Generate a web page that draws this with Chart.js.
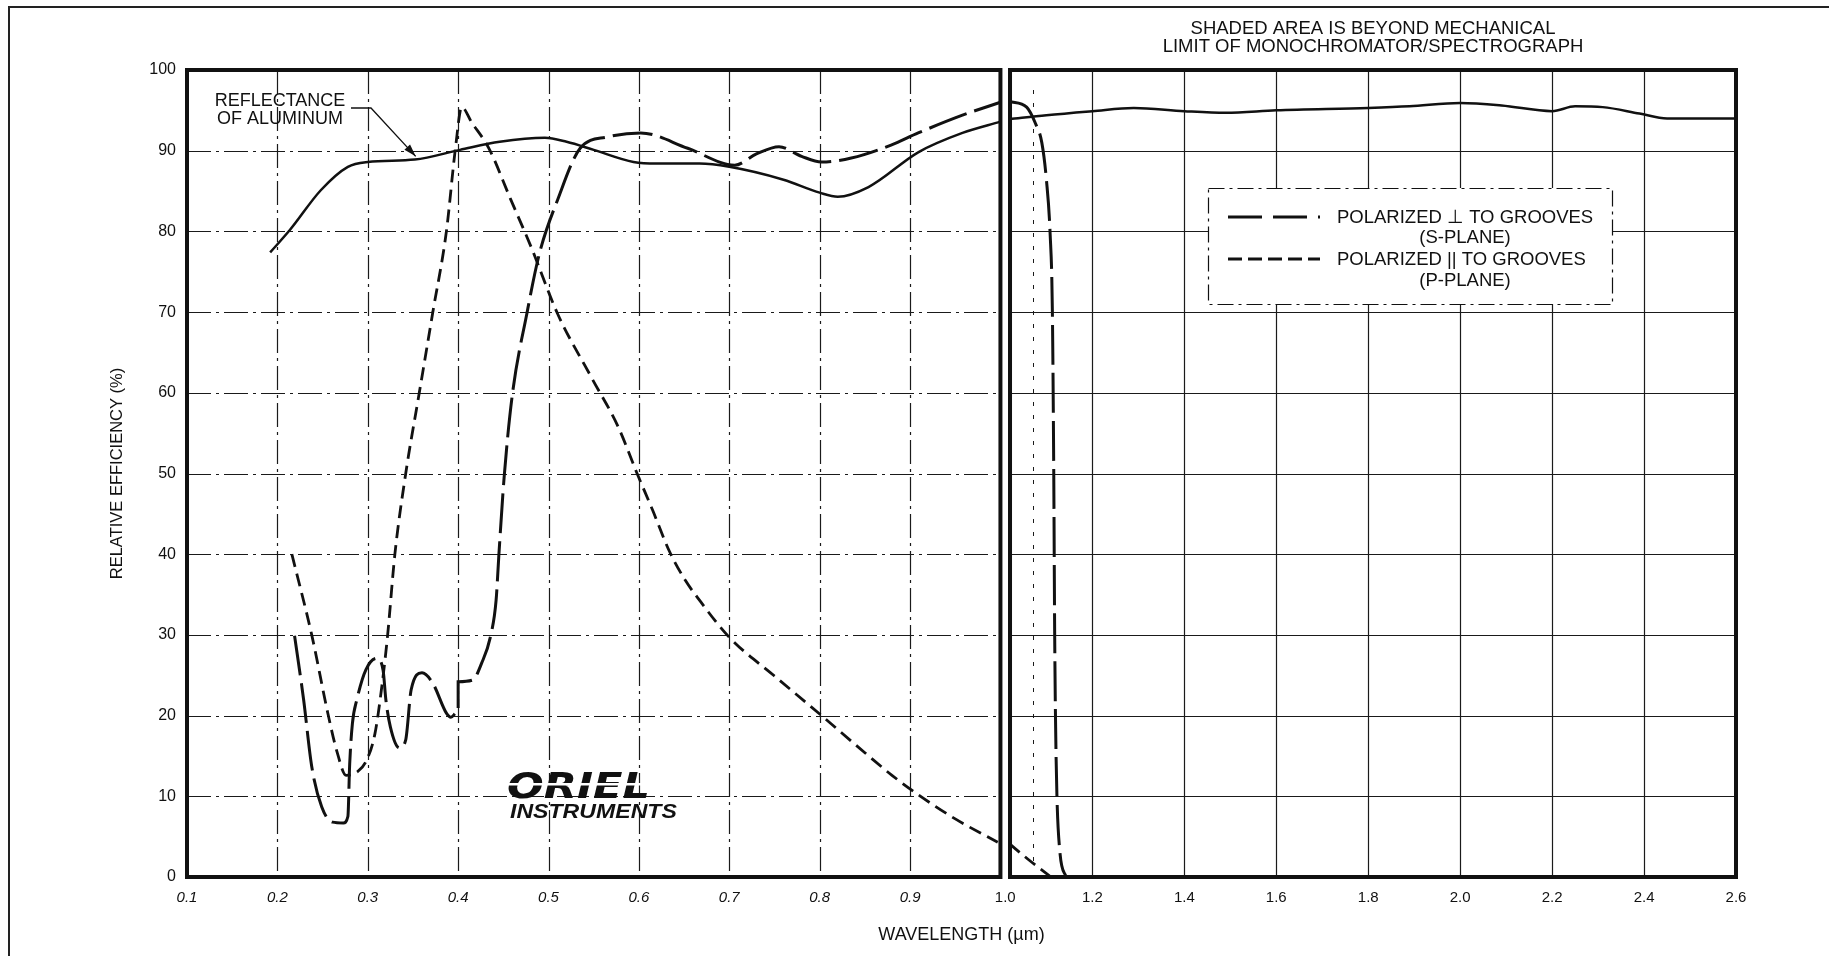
<!DOCTYPE html>
<html>
<head>
<meta charset="utf-8">
<script src="https://cdn.jsdelivr.net/npm/chart.js@4.4.1/dist/chart.umd.min.js"></script>
<style>
  html, body { margin: 0; padding: 0; background: #fff; }
  canvas { display: block; }
</style>
</head>
<body>
<canvas id="effChart" width="1829" height="956"></canvas>
<script>
// wavelength in µm, relative efficiency in %
const reflLeftWl   = [0.192, 0.214, 0.248, 0.278, 0.30, 0.352, 0.402, 0.446, 0.496, 0.52, 0.55, 0.594, 0.62, 0.667, 0.70, 0.76, 0.80, 0.82, 0.854, 0.909, 0.958, 1.0];
const reflLeftEff  = [77.4, 80.2, 85.1, 88.0, 88.6, 88.9, 90.1, 91.1, 91.6, 91.1, 90.1, 88.6, 88.4, 88.4, 88.0, 86.4, 84.8, 84.3, 85.5, 89.8, 92.2, 93.6];
const reflRightWl  = [1.02, 1.1, 1.2, 1.29, 1.4, 1.49, 1.6, 1.8, 1.89, 2.0, 2.09, 2.2, 2.25, 2.31, 2.39, 2.45, 2.6];
const reflRightEff = [93.9, 94.4, 94.9, 95.3, 94.9, 94.7, 95.0, 95.3, 95.5, 95.9, 95.6, 94.9, 95.5, 95.4, 94.6, 94.0, 94.0];

// polarized perpendicular to grooves (S-plane)
const sLeftWl  = [0.219, 0.229, 0.238, 0.249, 0.261, 0.273, 0.278, 0.28, 0.283, 0.288, 0.298, 0.31, 0.317, 0.32, 0.325, 0.335, 0.342, 0.348, 0.36, 0.372, 0.387, 0.392, 0.398, 0.40, 0.40, 0.416, 0.426, 0.436, 0.442, 0.445, 0.451, 0.46, 0.476, 0.49, 0.51, 0.535, 0.565, 0.602, 0.654, 0.706, 0.73, 0.755, 0.78, 0.802, 0.835, 0.879, 0.909, 0.958, 1.0];
const sLeftEff = [29.9, 22.0, 13.7, 8.7, 6.8, 6.7, 7.5, 14.0, 19.0, 22.0, 25.7, 27.1, 25.6, 22.0, 18.6, 16.0, 17.0, 23.2, 25.3, 24.0, 20.3, 19.8, 20.4, 20.5, 24.2, 24.4, 26.5, 29.9, 34.3, 39.8, 49.7, 59.8, 69.8, 77.3, 83.9, 90.3, 91.7, 92.2, 90.3, 88.2, 89.6, 90.5, 89.3, 88.6, 89.1, 90.7, 92.2, 94.4, 96.0];
const sRightWl  = [1.02, 1.057, 1.076, 1.09, 1.10, 1.108, 1.113, 1.116, 1.118, 1.121, 1.129, 1.143];
const sRightEff = [96.1, 95.4, 93.4, 91.0, 86.4, 79.8, 70.0, 50.0, 30.0, 15.0, 3.3, 0.0];

// polarized parallel to grooves (P-plane)
const pLeftWl  = [0.216, 0.238, 0.256, 0.266, 0.276, 0.288, 0.298, 0.308, 0.316, 0.322, 0.33, 0.342, 0.357, 0.372, 0.387, 0.397, 0.404, 0.415, 0.434, 0.458, 0.481, 0.51, 0.548, 0.577, 0.598, 0.615, 0.634, 0.65, 0.667, 0.70, 0.75, 0.80, 0.85, 0.88, 0.909, 0.95, 0.997];
const pLeftEff = [40.0, 30.0, 20.2, 15.5, 12.6, 13.0, 14.3, 17.8, 24.0, 30.0, 40.0, 50.0, 60.0, 70.0, 80.0, 90.3, 95.4, 93.5, 90.3, 84.0, 78.0, 69.8, 61.8, 55.8, 50.0, 45.5, 40.3, 37.0, 34.3, 29.7, 24.9, 20.2, 15.4, 12.6, 10.2, 7.2, 4.3];
const pRightWl  = [1.02, 1.06, 1.11];
const pRightEff = [4.1, 2.2, 0.0];

const xTickWl     = [0.1, 0.2, 0.3, 0.4, 0.5, 0.6, 0.7, 0.8, 0.9, 1.0, 1.2, 1.4, 1.6, 1.8, 2.0, 2.2, 2.4, 2.6];
const xTickLabels = ['0.1', '0.2', '0.3', '0.4', '0.5', '0.6', '0.7', '0.8', '0.9', '1.0', '1.2', '1.4', '1.6', '1.8', '2.0', '2.2', '2.4', '2.6'];
const yTicks      = [0, 10, 20, 30, 40, 50, 60, 70, 80, 90, 100];

const FONT = '"Liberation Sans", Arial, Helvetica, sans-serif';
const INK = '#111';

// the axis is split: 0.1 µm per division up to 1.0, then 0.2 µm per division
const RIGHT_STRETCH = 1.0173;
const X_MAX = 9 + 8 * RIGHT_STRETCH;
const GAP_U = 0.106;

function toU(wl) {
    return wl <= 1.0 ? (wl - 0.1) / 0.1 : 9 + (wl - 1.0) / 0.2 * RIGHT_STRETCH;
}
function tickU(wl) {
    return wl === 1.0 ? 9 + GAP_U / 2 : toU(wl);
}
function pts(wl, eff) {
    return wl.map((w, i) => ({ x: toU(w), y: eff[i] }));
}

const S_DASH = [40, 8];
const P_DASH = [13, 7];

function line(ctx, x0, y0, x1, y1) {
    ctx.beginPath();
    ctx.moveTo(x0, y0);
    ctx.lineTo(x1, y1);
    ctx.stroke();
}

const panelPlugin = {
    id: 'panels',
    beforeDraw(chart) {
        const ctx = chart.ctx;
        ctx.save();
        ctx.fillStyle = '#fff';
        ctx.fillRect(0, 0, chart.width, chart.height);
        // page frame
        ctx.strokeStyle = '#222';
        ctx.lineWidth = 2;
        ctx.beginPath();
        ctx.moveTo(9, chart.height);
        ctx.lineTo(9, 7);
        ctx.lineTo(chart.width, 7);
        ctx.stroke();
        ctx.restore();
    },
    beforeDatasetsDraw(chart) {
        const { ctx, scales: { x, y } } = chart;
        const top = y.getPixelForValue(100), bottom = y.getPixelForValue(0);
        const lx0 = x.getPixelForValue(0), lx1 = x.getPixelForValue(9);
        const rx0 = x.getPixelForValue(9 + GAP_U), rx1 = x.getPixelForValue(X_MAX);
        ctx.save();
        ctx.strokeStyle = '#1a1a1a';
        ctx.lineWidth = 1.2;

        // left panel: dash-dot grid
        ctx.setLineDash([24, 5, 3, 5]);
        yTicks.forEach(v => {
            if (v === 0 || v === 100) return;
            const py = Math.round(y.getPixelForValue(v)) + 0.5;
            line(ctx, lx0, py, lx1, py);
        });
        xTickWl.forEach(w => {
            if (w <= 0.1 || w >= 1.0) return;
            const px = Math.round(x.getPixelForValue(toU(w))) + 0.5;
            line(ctx, px, top, px, bottom);
        });

        // right panel: solid grid
        ctx.setLineDash([]);
        yTicks.forEach(v => {
            if (v === 0 || v === 100) return;
            const py = Math.round(y.getPixelForValue(v)) + 0.5;
            line(ctx, rx0, py, rx1, py);
        });
        xTickWl.forEach(w => {
            if (w <= 1.0 || w >= 2.6) return;
            const px = Math.round(x.getPixelForValue(toU(w))) + 0.5;
            line(ctx, px, top, px, bottom);
        });
        ctx.setLineDash([4, 9]);
        ctx.lineWidth = 1;
        const dx = Math.round(x.getPixelForValue(toU(1.07))) + 0.5;
        line(ctx, dx, top + 20, dx, bottom - 10);
        ctx.restore();
    },
    afterDatasetsDraw(chart) {
        const { ctx, scales: { x, y } } = chart;
        const top = y.getPixelForValue(100), bottom = y.getPixelForValue(0);
        const lx0 = x.getPixelForValue(0), lx1 = x.getPixelForValue(9);
        const rx0 = x.getPixelForValue(9 + GAP_U), rx1 = x.getPixelForValue(X_MAX);
        ctx.save();

        // gap between the two panels
        ctx.fillStyle = '#fff';
        ctx.fillRect(lx1 + 2, top - 3, rx0 - lx1 - 4, bottom - top + 6);

        // heavy panel frames
        ctx.strokeStyle = INK;
        ctx.lineWidth = 4;
        ctx.strokeRect(lx0, top, lx1 - lx0, bottom - top);
        ctx.strokeRect(rx0, top, rx1 - rx0, bottom - top);

        // legend box
        const bx = 1208, by = 188, bw = 404, bh = 116;
        ctx.fillStyle = '#fff';
        ctx.fillRect(bx, by, bw, bh);
        ctx.lineWidth = 1.2;
        ctx.setLineDash([16, 5, 3, 5]);
        ctx.strokeRect(bx + 0.5, by + 0.5, bw, bh);

        ctx.lineWidth = 3.2;
        ctx.setLineDash([34, 11]);
        line(ctx, 1228, 217, 1320, 217);
        ctx.lineWidth = 2.8;
        ctx.setLineDash([14, 6]);
        line(ctx, 1228, 259, 1320, 259);
        ctx.setLineDash([]);

        ctx.fillStyle = INK;
        ctx.font = '18.5px ' + FONT;
        ctx.textBaseline = 'middle';
        ctx.textAlign = 'left';
        ctx.fillText('POLARIZED \u22A5 TO GROOVES', 1337, 218);
        ctx.fillText('POLARIZED || TO GROOVES', 1337, 260);
        ctx.textAlign = 'center';
        ctx.fillText('(S-PLANE)', 1465, 238);
        ctx.fillText('(P-PLANE)', 1465, 281);

        // header note over the right panel
        ctx.font = '18.5px ' + FONT;
        const hx = (rx0 + rx1) / 2;
        ctx.fillText('SHADED AREA IS BEYOND MECHANICAL', hx, 29);
        ctx.fillText('LIMIT OF MONOCHROMATOR/SPECTROGRAPH', hx, 47);

        // reflectance callout with leader arrow
        ctx.font = '18px ' + FONT;
        ctx.fillText('REFLECTANCE', 280, 101);
        ctx.fillText('OF ALUMINUM', 280, 119);
        const tipX = x.getPixelForValue(toU(0.353)), tipY = y.getPixelForValue(89.3);
        ctx.lineWidth = 1.3;
        ctx.strokeStyle = INK;
        ctx.beginPath();
        ctx.moveTo(351, 108);
        ctx.lineTo(371, 108);
        ctx.lineTo(tipX, tipY);
        ctx.stroke();
        const ang = Math.atan2(tipY - 108, tipX - 371);
        ctx.beginPath();
        ctx.moveTo(tipX, tipY);
        ctx.lineTo(tipX - 13 * Math.cos(ang - 0.3), tipY - 13 * Math.sin(ang - 0.3));
        ctx.lineTo(tipX - 13 * Math.cos(ang + 0.3), tipY - 13 * Math.sin(ang + 0.3));
        ctx.closePath();
        ctx.fill();

        // logo
        ctx.textAlign = 'left';
        ctx.textBaseline = 'alphabetic';
        ctx.save();
        ctx.translate(507, 798);
        ctx.scale(1.2, 1);
        ctx.font = 'italic bold 36px "DejaVu Sans", ' + FONT;
        ctx.fillText('ORIEL', 0, 0);
        ctx.restore();
        ctx.fillStyle = '#fff';
        ctx.fillRect(500, 783, 160, 2.5);
        ctx.fillStyle = INK;
        ctx.save();
        ctx.translate(510, 818);
        ctx.scale(1.1, 1);
        ctx.font = 'italic bold 21px ' + FONT;
        ctx.fillText('INSTRUMENTS', 0, 0);
        ctx.restore();

        ctx.restore();
    }
};

function curve(data, dash, width) {
    return {
        data: data,
        borderColor: INK,
        borderWidth: width,
        borderDash: dash,
        pointRadius: 0,
        fill: false,
        cubicInterpolationMode: 'monotone'
    };
}

new Chart(document.getElementById('effChart').getContext('2d'), {
    type: 'line',
    data: {
        datasets: [
            curve(pts(reflLeftWl, reflLeftEff), [], 2.5),
            curve(pts(reflRightWl, reflRightEff), [], 2.5),
            curve(pts(sLeftWl, sLeftEff), S_DASH, 3),
            curve(pts(sRightWl, sRightEff), S_DASH, 3),
            curve(pts(pLeftWl, pLeftEff), P_DASH, 2.8),
            curve(pts(pRightWl, pRightEff), P_DASH, 2.8)
        ]
    },
    options: {
        responsive: false,
        animation: false,
        devicePixelRatio: 1,
        layout: { padding: { left: 0, right: 93, top: 70, bottom: 0 } },
        plugins: {
            legend: { display: false },
            tooltip: { enabled: false }
        },
        scales: {
            x: {
                type: 'linear',
                min: 0,
                max: X_MAX,
                grid: { display: false, drawTicks: false },
                border: { display: false },
                afterBuildTicks: axis => {
                    axis.ticks = xTickWl.map(w => ({ value: tickU(w) }));
                },
                afterFit: axis => { axis.height = 79; },
                ticks: {
                    autoSkip: false,
                    maxRotation: 0,
                    minRotation: 0,
                    padding: 12,
                    color: INK,
                    font: c => ({ family: FONT, size: 15, style: c.index <= 8 ? 'italic' : 'normal' }),
                    callback: (value, index) => xTickLabels[index]
                },
                title: {
                    display: true,
                    text: 'WAVELENGTH (\u00B5m)',
                    color: INK,
                    font: { family: FONT, size: 18 },
                    padding: { top: 0, bottom: 10 }
                }
            },
            y: {
                min: 0,
                max: 100,
                grid: { display: false, drawTicks: false },
                border: { display: false },
                afterBuildTicks: axis => {
                    axis.ticks = yTicks.map(v => ({ value: v }));
                },
                afterFit: axis => { axis.width = 187; },
                ticks: {
                    padding: 11,
                    color: INK,
                    font: { family: FONT, size: 16 }
                },
                title: {
                    display: true,
                    text: 'RELATIVE EFFICIENCY (%)',
                    color: INK,
                    font: { family: FONT, size: 16.5 },
                    padding: { top: 108, bottom: 0 }
                }
            }
        }
    },
    plugins: [panelPlugin]
});
</script>
</body>
</html>
